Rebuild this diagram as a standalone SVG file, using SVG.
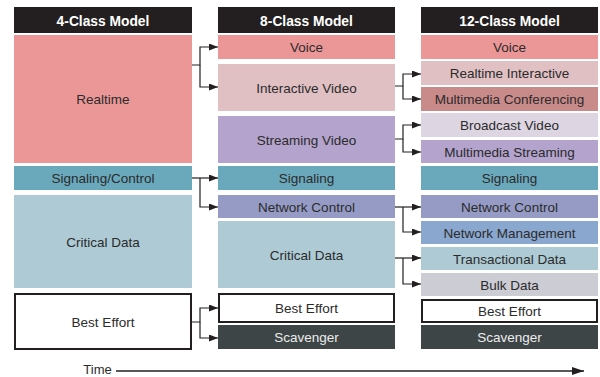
<svg xmlns="http://www.w3.org/2000/svg" width="600" height="377" viewBox="0 0 600 377">
<defs>
<style>
text{font-family:"Liberation Sans",Arial,sans-serif;font-size:13.5px;fill:#2b2b2b;text-anchor:middle}
.hd rect{fill:#231f20}
.hd text{fill:#fff;font-weight:bold;font-size:13.8px}
.be rect{fill:#fff;stroke:#231f20;stroke-width:2}
.sc rect{fill:#3d4547}
.sc text{fill:#ececec}
.conn polyline{fill:none;stroke:#231f20;stroke-width:1.2;marker-end:url(#ah)}
</style>
<marker id="ah" markerUnits="userSpaceOnUse" markerWidth="9" markerHeight="7" refX="9" refY="3.5" orient="auto"><path d="M0,0 L9,3.5 L0,7 z" fill="#231f20"/></marker>
<marker id="ahT" markerUnits="userSpaceOnUse" markerWidth="12" markerHeight="8" refX="12" refY="4" orient="auto"><path d="M0,0 L12,4 L0,8 z" fill="#231f20"/></marker>
</defs>
<rect width="600" height="377" fill="#fff"/>

<!-- Column 1 -->
<g id="h4" class="hd"><rect x="14" y="7" width="178" height="26"/><text x="103" y="25.5">4-Class Model</text></g>
<g id="c1-realtime"><rect x="14" y="35" width="178" height="128" fill="#ec9797"/><text x="103" y="104">Realtime</text></g>
<g id="c1-signaling"><rect x="14" y="166" width="178" height="24" fill="#6aa8bc"/><text x="103" y="183">Signaling/Control</text></g>
<g id="c1-critical"><rect x="14" y="195" width="178" height="93" fill="#adcad5"/><text x="103" y="246.5">Critical Data</text></g>
<g id="c1-best" class="be"><rect x="15" y="294" width="176" height="55"/><text x="103" y="326.5">Best Effort</text></g>

<!-- Column 2 -->
<g id="h8" class="hd"><rect x="218" y="7" width="177" height="26"/><text x="306.5" y="25.5">8-Class Model</text></g>
<g id="c2-voice"><rect x="218" y="35" width="177" height="24" fill="#ec9797"/><text x="306.5" y="52">Voice</text></g>
<g id="c2-interactive"><rect x="218" y="64" width="177" height="47" fill="#e0c0c3"/><text x="306.5" y="92.5">Interactive Video</text></g>
<g id="c2-streaming"><rect x="218" y="116" width="177" height="47" fill="#b3a3cd"/><text x="306.5" y="144.5">Streaming Video</text></g>
<g id="c2-signaling"><rect x="218" y="166" width="177" height="24" fill="#6aa8bc"/><text x="306.5" y="183">Signaling</text></g>
<g id="c2-netctl"><rect x="218" y="195" width="177" height="23" fill="#959bc5"/><text x="306.5" y="211.5">Network Control</text></g>
<g id="c2-critical"><rect x="218" y="221" width="177" height="67" fill="#adcad5"/><text x="306.5" y="259.5">Critical Data</text></g>
<g id="c2-best" class="be"><rect x="219" y="294" width="175" height="28"/><text x="306.5" y="313">Best Effort</text></g>
<g id="c2-scavenger" class="sc"><rect x="218" y="325" width="177" height="24"/><text x="306.5" y="342">Scavenger</text></g>

<!-- Column 3 -->
<g id="h12" class="hd"><rect x="421" y="7" width="177" height="26"/><text x="509.5" y="25.5">12-Class Model</text></g>
<g id="c3-voice"><rect x="421" y="35" width="177" height="24" fill="#ec9797"/><text x="509.5" y="52">Voice</text></g>
<g id="c3-rti"><rect x="421" y="61" width="177" height="24" fill="#e0c0c3"/><text x="509.5" y="78">Realtime Interactive</text></g>
<g id="c3-mmconf"><rect x="421" y="87" width="177" height="24" fill="#c98a8a"/><text x="509.5" y="104">Multimedia Conferencing</text></g>
<g id="c3-broadcast"><rect x="421" y="113" width="177" height="24" fill="#ddd5e1"/><text x="509.5" y="130">Broadcast Video</text></g>
<g id="c3-mmstream"><rect x="421" y="140" width="177" height="23" fill="#b3a3cd"/><text x="509.5" y="156.5">Multimedia Streaming</text></g>
<g id="c3-signaling"><rect x="421" y="166" width="177" height="24" fill="#6aa8bc"/><text x="509.5" y="183">Signaling</text></g>
<g id="c3-netctl"><rect x="421" y="195" width="177" height="23" fill="#959bc5"/><text x="509.5" y="211.5">Network Control</text></g>
<g id="c3-netmgmt"><rect x="421" y="221" width="177" height="23" fill="#8aa7cf"/><text x="509.5" y="237.5">Network Management</text></g>
<g id="c3-trans"><rect x="421" y="247" width="177" height="23" fill="#adcad5"/><text x="509.5" y="263.5">Transactional Data</text></g>
<g id="c3-bulk"><rect x="421" y="273" width="177" height="23" fill="#cbccd4"/><text x="509.5" y="289.5">Bulk Data</text></g>
<g id="c3-best" class="be"><rect x="422" y="300" width="175" height="22"/><text x="509.5" y="316">Best Effort</text></g>
<g id="c3-scavenger" class="sc"><rect x="421" y="325" width="177" height="24"/><text x="509.5" y="342">Scavenger</text></g>

<!-- Connectors -->
<g id="connectors" class="conn">
<polyline points="192,65 200,65 200,47 218,47"/>
<polyline points="200,65 200,87 218,87"/>
<polyline points="192,178 218,178"/>
<polyline points="200,178 200,207 218,207"/>
<polyline points="192,322 200,322 200,308 218,308"/>
<polyline points="200,322 200,338 218,338"/>
<polyline points="395,86 403,86 403,74 421,74"/>
<polyline points="403,86 403,99 421,99"/>
<polyline points="395,139 403,139 403,125 421,125"/>
<polyline points="403,139 403,152 421,152"/>
<polyline points="395,207 421,207"/>
<polyline points="403,207 403,232 421,232"/>
<polyline points="395,258 421,258"/>
<polyline points="403,258 403,284 421,284"/>
</g>

<!-- Time axis -->
<g id="time">
<text x="97.5" y="373.5" style="font-size:13px">Time</text>
<line x1="116" y1="371" x2="584" y2="371" stroke="#231f20" stroke-width="1.6" marker-end="url(#ahT)"/>
</g>
</svg>
